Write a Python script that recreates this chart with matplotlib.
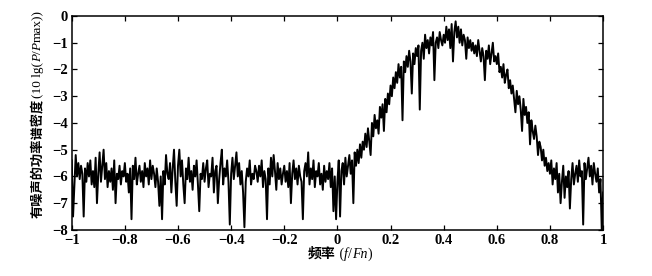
import numpy as np
import matplotlib
matplotlib.use("Agg")
import matplotlib.pyplot as plt

plt.rcParams['font.family'] = ['Liberation Serif', 'Noto Sans CJK SC']

# noise floor, f/Fn from -1 to -0.005 (step 0.005)
psd_neg = [
    -5.4, -7.5, -6.3, -5.2, -6.0, -5.5, -6.1, -5.6, -5.9, -7.5, -5.7, -6.2, -5.5, -6.0, -5.4, -6.3, -5.8, -6.4, -5.3, -7.0,
    -5.9, -5.1, -6.2, -5.6, -5.0, -6.1, -5.5, -6.4, -5.8, -6.2, -5.7, -6.5, -5.4, -7.0, -5.9, -6.1, -5.6, -6.3, -5.8, -6.0,
    -5.5, -6.2, -5.9, -6.6, -5.7, -7.6, -5.6, -6.1, -5.3, -6.3, -5.9, -5.6, -6.2, -5.8, -6.4, -5.5, -6.0, -5.7, -6.3, -5.4,
    -6.1, -5.6, -5.9, -6.4, -5.7, -6.2, -7.1, -6.0, -7.6, -5.8, -6.3, -5.2, -5.9, -6.1, -5.5, -6.6, -5.7, -5.0, -6.2, -7.1,
    -5.6, -5.0, -6.0, -5.4, -6.3, -7.0, -5.7, -6.1, -5.3, -6.2, -5.8, -6.5, -5.6, -6.0, -5.4, -6.3, -7.3, -5.9, -6.1, -5.5,
    -6.2, -5.7, -5.4, -6.4, -5.9, -6.0, -5.3, -6.6, -5.8, -5.6, -7.0, -6.1, -5.5, -5.0, -6.3, -5.7, -6.0, -5.4, -6.2, -7.8,
    -5.9, -5.3, -6.1, -5.6, -5.1, -6.0, -5.5, -6.3, -5.8, -6.6, -7.9, -6.2, -5.7, -6.0, -5.4, -6.3, -5.9, -6.1, -5.6, -5.8,
    -6.2, -5.6, -6.0, -5.4, -6.4, -5.8, -6.1, -7.6, -5.7, -6.3, -5.3, -6.0, -5.2, -5.8, -6.5, -5.5, -6.1, -5.7, -6.3, -5.9,
    -5.6, -6.2, -5.8, -6.4, -5.5, -7.0, -5.9, -5.4, -6.1, -5.7, -6.3, -5.6, -6.0, -6.2, -7.6, -5.8, -5.5, -6.0, -5.1, -6.3,
    -5.7, -6.1, -5.4, -6.4, -5.8, -6.0, -5.5, -6.3, -5.9, -6.5, -5.6, -6.2, -5.8, -6.1, -5.5, -6.4, -5.7, -7.3, -6.0, -7.6,
]

# signal band, f/Fn from 0 to 1 (step 0.005)
psd_pos = [
    -6.2, -5.4, -7.5, -5.8, -5.5, -6.3, -5.3, -6.0, -5.6, -5.2, -5.9, -5.4, -7.0, -5.1, -5.6, -5.0, -5.5, -4.8, -5.3, -4.7,
    -5.0, -4.4, -4.9, -4.2, -4.7, -5.2, -4.0, -4.5, -3.7, -4.2, -3.9, -4.4, -3.4, -3.8, -3.3, -4.3, -3.1, -3.6, -2.9, -3.3,
    -2.6, -3.0, -2.3, -2.7, -2.1, -2.5, -1.8, -2.3, -1.9, -3.9, -1.7, -2.1, -1.5, -1.9, -1.3, -1.7, -2.9, -1.4, -1.8, -1.2,
    -1.5, -1.1, -3.5, -1.3, -1.0, -1.6, -0.7, -1.2, -0.9, -1.4, -0.8, -1.1, -0.6, -2.4, -1.0, -0.8, -1.2, -0.6, -0.9, -1.1,
    -0.7, -1.0, -0.4, -0.9, -0.5, -1.2, -0.3, -1.7, -0.6, -0.2, -0.8, -0.4, -1.0, -0.5, -1.1, -0.7, -0.9, -1.6, -0.8, -1.2,
    -0.9, -1.3, -1.0, -1.4, -1.1, -1.5, -0.9, -1.3, -1.7, -1.2, -1.5, -2.4, -1.3, -1.6, -1.1, -1.8, -1.4, -1.0, -1.7, -1.5,
    -1.8, -1.4, -2.1, -1.9, -2.3, -1.8, -2.5, -2.2, -2.0, -2.7, -2.4, -2.9, -2.6, -3.1, -3.6, -2.8, -3.3, -3.0, -3.5, -4.3,
    -3.1, -3.7, -3.4, -4.0, -3.6, -4.8, -3.9, -4.3, -4.6, -4.1, -4.5, -5.2, -4.7, -4.9, -5.4, -5.0, -5.6, -5.3, -5.8, -5.5,
    -5.9, -5.4, -6.3, -5.7, -6.1, -5.5, -6.6, -5.9, -7.0, -6.2, -5.6, -6.8, -6.0, -6.4, -5.8, -7.2, -6.1, -5.5, -6.3, -5.9,
    -5.6, -6.2, -5.4, -6.0, -5.8, -7.8, -5.5, -6.1, -5.7, -5.3, -6.0, -5.6, -6.3, -5.5, -5.9, -6.2, -5.7, -6.6, -6.1, -8.0,
    -6.6,
]

psd = np.array(psd_neg + psd_pos)
freq = np.linspace(-1, 1, len(psd))

xticks = [-1, -0.8, -0.6, -0.4, -0.2, 0, 0.2, 0.4, 0.6, 0.8, 1]
xtick_labels = ['\u22121', '\u22120.8', '\u22120.6', '\u22120.4', '\u22120.2', '0', '0.2', '0.4', '0.6', '0.8', '1']
yticks = [0, -1, -2, -3, -4, -5, -6, -7, -8]
ytick_labels = ['0', '\u22121', '\u22122', '\u22123', '\u22124', '\u22125', '\u22126', '\u22127', '\u22128']

# label pieces: (text, italic?)
xlabel_parts = [('频率', False), (' (', False), ('f', True), ('/', False), ('Fn', True), (')', False)]
ylabel_parts = [('有噪声的功率谱密度', False), ('(10 lg(', False), ('P', True), ('/', False),
                ('P', True), ('max))', False)]

W, H = 652, 276
fig = plt.figure(figsize=(W / 100, H / 100), dpi=100)
ax = fig.add_axes([0.110, 0.167, 0.815, 0.775])
ax.plot(freq, psd, color='black', linewidth=1.4)

ax.set_xlim(-1, 1)
ax.set_ylim(-8, 0)
ax.set_xticks(xticks)
ax.set_xticklabels(xtick_labels, fontsize=10.5, fontweight='bold')
ax.set_yticks(yticks)
ax.set_yticklabels(ytick_labels, fontsize=10.5, fontweight='bold')
ax.tick_params(direction='in', length=3.5, width=0.9, top=True, right=True)
ax.tick_params(axis='x', pad=3)
ax.tick_params(axis='y', pad=3)
for s in ax.spines.values():
    s.set_linewidth(1.1)


def piece_text(s, italic, rot, size):
    return fig.text(0, 0, s, fontsize=size, rotation=rot, rotation_mode='anchor',
                    ha='left', va='baseline', fontstyle='italic' if italic else 'normal',
                    fontweight='bold' if not italic and not s.isascii() else 'normal',
                    family=['Liberation Serif', 'Noto Sans CJK SC'])


def draw_label(parts, center, base, vertical, size):
    r = fig.canvas.get_renderer()
    texts = [piece_text(s, it, 90 if vertical else 0, size) for s, it in parts]
    lens = []
    for t in texts:
        bb = t.get_window_extent(r)
        lens.append(bb.height if vertical else bb.width)
    pos = center - sum(lens) / 2
    for t, n in zip(texts, lens):
        if vertical:
            t.set_position((base / W, pos / H))
        else:
            t.set_position((pos / W, base / H))
        pos += n


# centre of x label ~ (340, 254) from top -> baseline in pixels from bottom
draw_label(xlabel_parts, 340, H - 258, False, 10)
draw_label(ylabel_parts, H - 114, 41, True, 9.5)

fig.savefig('out.png', dpi=100)
